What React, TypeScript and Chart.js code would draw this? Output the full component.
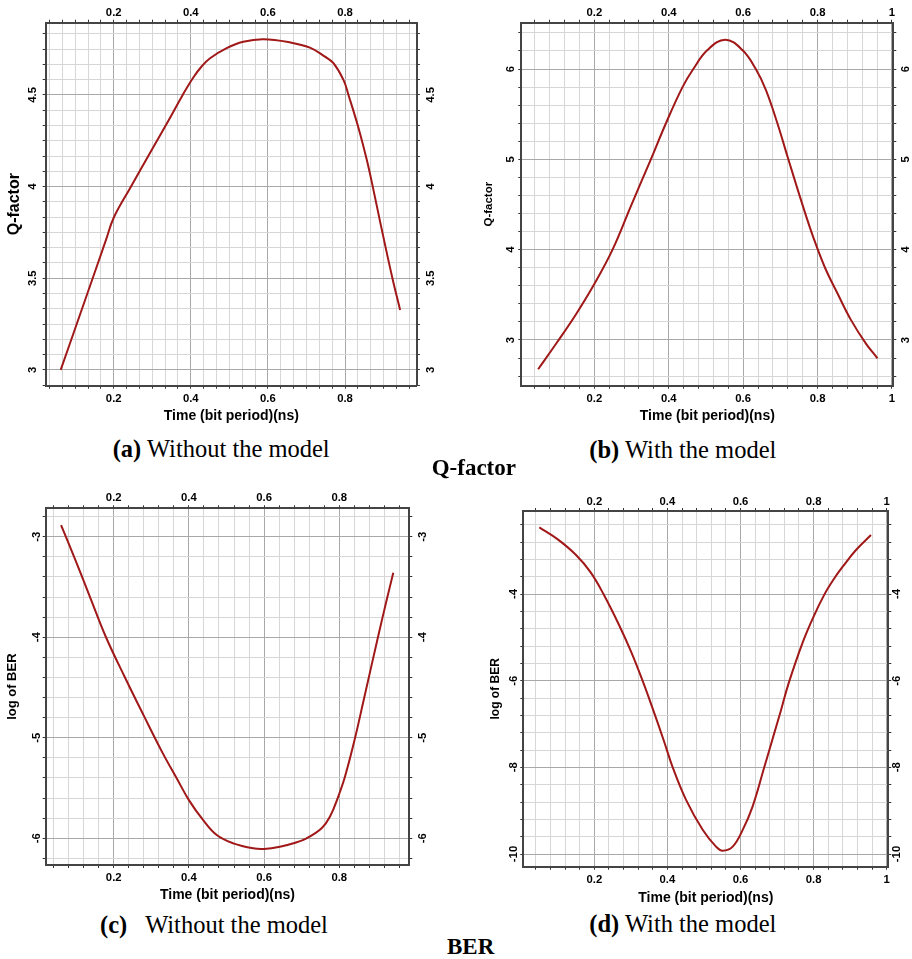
import React, { useEffect, useRef } from 'react';
import { Chart, registerables } from 'chart.js';

Chart.register(...registerables);

// ---------------- data ----------------
const timeA = [0.0625, 0.10, 0.143, 0.18, 0.20, 0.242, 0.30, 0.34, 0.379, 0.4065, 0.428, 0.45, 0.493, 0.536, 0.588, 0.657, 0.709, 0.748, 0.770, 0.796, 0.809, 0.835, 0.856, 0.872, 0.891, 0.923, 0.943];
const qA = [3.00, 3.226, 3.485, 3.709, 3.83, 3.99, 4.205, 4.352, 4.50, 4.595, 4.655, 4.70, 4.755, 4.79, 4.804, 4.787, 4.758, 4.709, 4.673, 4.582, 4.50, 4.32, 4.15, 4.00, 3.809, 3.50, 3.327];

const timeB = [0.049, 0.10, 0.15, 0.20, 0.249, 0.30, 0.352, 0.3925, 0.437, 0.466, 0.504, 0.552, 0.598, 0.634, 0.661, 0.692, 0.72, 0.76, 0.79, 0.82, 0.853, 0.89, 0.93, 0.961];
const qB = [2.676, 2.975, 3.28, 3.62, 4.00, 4.50, 5.00, 5.40, 5.80, 6.00, 6.21, 6.325, 6.21, 6.00, 5.77, 5.40, 5.02, 4.49, 4.12, 3.80, 3.52, 3.22, 2.96, 2.797];

const timeC = [0.06, 0.10, 0.137, 0.1795, 0.23, 0.28, 0.33, 0.37, 0.40, 0.438, 0.474, 0.518, 0.571, 0.60, 0.642, 0.678, 0.713, 0.753, 0.775, 0.797, 0.815, 0.842, 0.864, 0.904, 0.926, 0.9436];
const berC = [-2.884, -3.25, -3.60, -4.00, -4.40, -4.78, -5.15, -5.42, -5.62, -5.82, -5.968, -6.05, -6.10, -6.106, -6.085, -6.05, -6.00, -5.90, -5.786, -5.587, -5.388, -5.00, -4.64, -3.98, -3.63, -3.358];

const timeD = [0.0495, 0.10, 0.15, 0.19, 0.225, 0.268, 0.30, 0.332, 0.36, 0.39, 0.4145, 0.451, 0.4965, 0.533, 0.551, 0.5786, 0.606, 0.633, 0.665, 0.69, 0.711, 0.732, 0.77, 0.80, 0.829, 0.855, 0.8796, 0.916, 0.957];
const berD = [-2.461, -2.74, -3.10, -3.50, -4.00, -4.72, -5.32, -6.00, -6.65, -7.38, -8.00, -8.75, -9.44, -9.83, -9.924, -9.83, -9.444, -8.906, -8.00, -7.28, -6.676, -6.05, -5.12, -4.52, -4.02, -3.66, -3.37, -2.985, -2.639];

// axis ranges and tick steps
const rangeA = { xMin: 0.0236, xMax: 0.9865, xMajor: 0.2, xMinor: 0.2 / 6, yMin: 2.914, yMax: 4.894, yMajor: 0.5, yMinor: 0.5 / 6 };
const rangeB = { xMin: 0.0038, xMax: 1.0035, xMajor: 0.2, xMinor: 0.04, yMin: 2.494, yMax: 6.513, yMajor: 1, yMinor: 0.2 };
const rangeC = { xMin: 0.0191, xMax: 0.9862, xMajor: 0.2, xMinor: 0.04, yMin: -6.2656, yMax: -2.7175, yMajor: 1, yMinor: 0.2 };
const rangeD = { xMin: 0.0057, xMax: 1.0044, xMajor: 0.2, xMinor: 0.04, yMin: -10.293, yMax: -2.0845, yMajor: 2, yMinor: 0.4 };

const X_TITLE = 'Time (bit period)(ns)';
const Y_TITLE_Q = 'Q-factor';
const Y_TITLE_BER = 'log of BER';

// ---------------- styles / layout ----------------
const SANS = '"Liberation Sans", Arial, sans-serif';
const SERIF = '"Liberation Serif", "Times New Roman", serif';
const LINE_COLOR = '#a01818';
const GRID_MAJOR = '#a8a8a8';
const GRID_MINOR = '#d6d6d6';
const BORDER_COLOR = '#444444';
const TICK_COLOR = '#333333';
const TICK_SIZE = 11.3;
const TL = 3;

type Box = { x: number; y: number; w: number; h: number };
type Plot = { l: number; t: number; r: number; b: number };
type Dist = { top: number; bottom: number; left: number; right: number; xTitle: number; yTitle: number };
type Panel = {
  key: string;
  xs: number[];
  ys: number[];
  range: typeof rangeA;
  yTitle: string;
  yTitleSize: number;
  box: Box;
  plot: Plot;
  dist: Dist;
};

const PANELS: Panel[] = [
  {
    key: 'a', xs: timeA, ys: qA, range: rangeA, yTitle: Y_TITLE_Q, yTitleSize: 16,
    box: { x: 0, y: 0, w: 456, h: 432 },
    plot: { l: 45.7, t: 22.7, r: 416.9, b: 385.7 },
    dist: { top: 9.4, bottom: 13.6, left: 13, right: 13.8, xTitle: 30.3, yTitle: 31.2 },
  },
  {
    key: 'b', xs: timeB, ys: qB, range: rangeB, yTitle: Y_TITLE_Q, yTitleSize: 11.5,
    box: { x: 456, y: 0, w: 456, h: 432 },
    plot: { l: 521.3, t: 22.7, r: 893.3, b: 385.7 },
    dist: { top: 9.4, bottom: 13.6, left: 10.3, right: 12.7, xTitle: 30.3, yTitle: 32 },
  },
  {
    key: 'c', xs: timeC, ys: berC, range: rangeC, yTitle: Y_TITLE_BER, yTitleSize: 13,
    box: { x: 0, y: 470, w: 456, h: 440 },
    plot: { l: 45.7, t: 508.3, r: 409.3, b: 865 },
    dist: { top: 10, bottom: 12.7, left: 9, right: 13.4, xTitle: 30, yTitle: 33.2 },
  },
  {
    key: 'd', xs: timeD, ys: berD, range: rangeD, yTitle: Y_TITLE_BER, yTitleSize: 12,
    box: { x: 456, y: 470, w: 456, h: 440 },
    plot: { l: 523.3, t: 511, r: 888.3, b: 866.7 },
    dist: { top: 9.3, bottom: 13.3, left: 9.8, right: 8.5, xTitle: 31, yTitle: 27.3 },
  },
];

const isMajor = (v: number, major: number) => Math.abs(v / major - Math.round(v / major)) < 1e-6;
const fmt = (v: number) => String(parseFloat(v.toFixed(3)));

function widestLabel(ctx: CanvasRenderingContext2D, min: number, max: number, major: number) {
  ctx.font = `bold ${TICK_SIZE}px ${SANS}`;
  let w = 0;
  const start = Math.ceil(min / major - 1e-9);
  const end = Math.floor(max / major + 1e-9);
  for (let k = start; k <= end; k++) {
    w = Math.max(w, ctx.measureText(fmt(k * major)).width);
  }
  return w;
}

function makeConfig(p: Panel, ctx: CanvasRenderingContext2D): any {
  const r = p.range;
  const leftW = p.plot.l - p.box.x;
  const rightW = p.box.x + p.box.w - p.plot.r;
  const topH = p.plot.t - p.box.y;
  const bottomH = p.box.y + p.box.h - p.plot.b;
  const yW = widestLabel(ctx, r.yMin, r.yMax, r.yMajor);

  const padBottom = p.dist.bottom - TL - TICK_SIZE / 2;
  const padTop = p.dist.top - TL - TICK_SIZE / 2;
  const padLeft = p.dist.left - TL - yW / 2;
  const padRight = p.dist.right - TL - yW / 2;
  const xTitleSize = 14;
  const xTitlePad = bottomH - p.dist.xTitle - xTitleSize / 2;
  const yTitlePad = leftW - p.dist.yTitle - p.yTitleSize / 2;

  const tickFont = { family: SANS, size: TICK_SIZE, weight: 'bold', lineHeight: 1 };
  const xCb = (v: any) => (isMajor(Number(v), r.xMajor) ? fmt(Number(v)) : '');
  const yCb = (v: any) => (isMajor(Number(v), r.yMajor) ? fmt(Number(v)) : '');
  const xGrid = (c: any) => (c.tick && isMajor(c.tick.value, r.xMajor) ? GRID_MAJOR : GRID_MINOR);
  const yGrid = (c: any) => (c.tick && isMajor(c.tick.value, r.yMajor) ? GRID_MAJOR : GRID_MINOR);
  const border = { display: true, color: BORDER_COLOR, width: 2 };

  const xTicks = (pad: number) => ({
    stepSize: r.xMinor, includeBounds: false, autoSkip: false, minRotation: 0, maxRotation: 0,
    padding: pad, font: tickFont, color: '#000', callback: xCb,
  });
  const yTicks = (pad: number) => ({
    stepSize: r.yMinor, includeBounds: false, autoSkip: false, minRotation: 90, maxRotation: 90,
    crossAlign: 'center', padding: pad, font: tickFont, color: '#000', callback: yCb,
  });

  return {
    type: 'line',
    data: {
      datasets: [
        {
          data: p.xs.map((x, i) => ({ x, y: p.ys[i] })),
          borderColor: LINE_COLOR,
          borderWidth: 2,
          pointRadius: 0,
          fill: false,
          tension: 0.4,
          xAxisID: 'x',
          yAxisID: 'y',
        },
      ],
    },
    options: {
      responsive: false,
      animation: false,
      devicePixelRatio: 1,
      events: [],
      layout: { padding: 0 },
      plugins: { legend: { display: false }, tooltip: { enabled: false }, title: { display: false } },
      scales: {
        x: {
          type: 'linear', axis: 'x', position: 'bottom', min: r.xMin, max: r.xMax,
          ticks: xTicks(padBottom),
          grid: { color: xGrid, lineWidth: 1, drawTicks: true, tickLength: TL, tickColor: TICK_COLOR, tickWidth: 1 },
          border,
          title: {
            display: true, text: X_TITLE, color: '#000',
            font: { family: SANS, size: xTitleSize, weight: 'bold', lineHeight: 1 },
            padding: { top: 0, bottom: xTitlePad },
          },
          afterFit: (s: any) => { s.height = bottomH; },
        },
        x2: {
          type: 'linear', axis: 'x', position: 'top', min: r.xMin, max: r.xMax,
          ticks: xTicks(padTop),
          grid: { drawOnChartArea: false, drawTicks: true, tickLength: TL, tickColor: TICK_COLOR, tickWidth: 1 },
          border,
          afterFit: (s: any) => { s.height = topH; },
        },
        y: {
          type: 'linear', axis: 'y', position: 'left', min: r.yMin, max: r.yMax,
          ticks: yTicks(padLeft),
          grid: { color: yGrid, lineWidth: 1, drawTicks: true, tickLength: TL, tickColor: TICK_COLOR, tickWidth: 1 },
          border,
          title: {
            display: true, text: p.yTitle, color: '#000',
            font: { family: SANS, size: p.yTitleSize, weight: 'bold', lineHeight: 1 },
            padding: { top: yTitlePad, bottom: 0 },
          },
          afterFit: (s: any) => { s.width = leftW; },
        },
        y2: {
          type: 'linear', axis: 'y', position: 'right', min: r.yMin, max: r.yMax,
          ticks: yTicks(padRight),
          grid: { drawOnChartArea: false, drawTicks: true, tickLength: TL, tickColor: TICK_COLOR, tickWidth: 1 },
          border,
          afterFit: (s: any) => { s.width = rightW; },
        },
      },
    },
  };
}

function PanelChart({ panel }: { panel: Panel }) {
  const ref = useRef<HTMLCanvasElement | null>(null);
  useEffect(() => {
    const canvas = ref.current;
    if (!canvas) return;
    const ctx = canvas.getContext('2d') as CanvasRenderingContext2D;
    const chart = new Chart(canvas, makeConfig(panel, ctx));
    return () => chart.destroy();
  }, [panel]);
  return (
    <canvas
      ref={ref}
      width={panel.box.w}
      height={panel.box.h}
      style={{ position: 'absolute', left: panel.box.x, top: panel.box.y, width: panel.box.w, height: panel.box.h }}
    />
  );
}

type Caption = { tag: string; text: string; left: number; top: number };
const CAPTIONS: Caption[] = [
  { tag: '(a)', text: ' Without the model', left: 112.7, top: 436.5 },
  { tag: '(b)', text: ' With the model', left: 589.3, top: 437.8 },
  { tag: '(c)', text: '   Without the model', left: 100, top: 912.8 },
  { tag: '(d)', text: ' With the model', left: 589.3, top: 912.2 },
];
const GROUP_LABELS = [
  { text: 'Q-factor', left: 431.7, top: 455.7 },
  { text: 'BER', left: 447, top: 935 },
];

export default function App() {
  return (
    <div style={{ position: 'absolute', left: 0, top: 0, width: 912, height: 959, background: '#fff', overflow: 'hidden' }}>
      {PANELS.map((p) => (
        <PanelChart key={p.key} panel={p} />
      ))}
      {CAPTIONS.map((c) => (
        <div
          key={c.tag}
          style={{ position: 'absolute', left: c.left, top: c.top, fontFamily: SERIF, fontSize: 24.5, lineHeight: '24.5px', whiteSpace: 'pre', color: '#000' }}
        >
          <b>{c.tag}</b>
          {c.text}
        </div>
      ))}
      {GROUP_LABELS.map((g) => (
        <div
          key={g.text}
          style={{ position: 'absolute', left: g.left, top: g.top, fontFamily: SERIF, fontSize: 23, lineHeight: '23px', fontWeight: 'bold', whiteSpace: 'pre', color: '#000' }}
        >
          {g.text}
        </div>
      ))}
    </div>
  );
}
